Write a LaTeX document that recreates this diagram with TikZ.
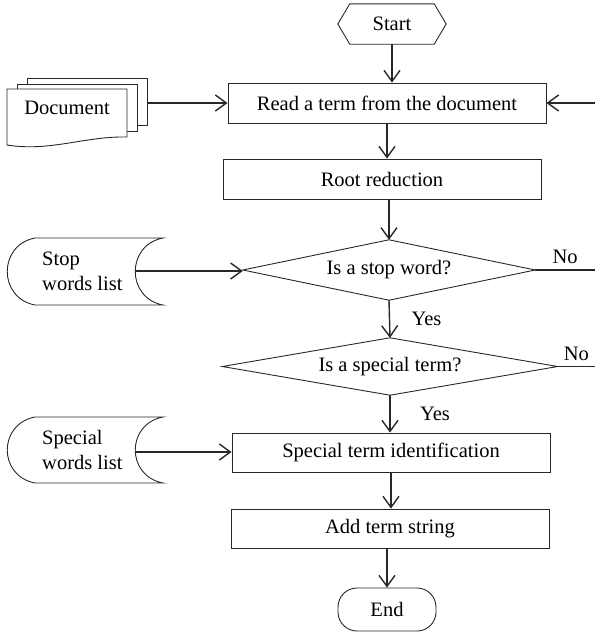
\documentclass[tikz,border=0pt]{standalone}
\usepackage{fontspec}
\setmainfont{Liberation Serif}
\usetikzlibrary{arrows.meta}
\definecolor{ink}{RGB}{40,40,40}
\tikzset{
    >={Straight Barb[length=11pt,width=16pt]},
    every node/.style={font=\fontsize{20.5}{25}\selectfont, text=black},
    shp/.style={draw=ink, line width=0.9pt},
    proc/.style={shp, minimum width=318pt, minimum height=40pt, inner sep=0pt},
    flow/.style={->, draw=ink, line width=1.4pt},
    plain/.style={draw=ink, line width=1.4pt}
}
\begin{document}
\begin{tikzpicture}[x=1pt,y=-1pt]
    \useasboundingbox (0,0) rectangle (595,633);
    \coordinate (edge) at (595,0);

    \node[minimum width=108pt, minimum height=40pt, inner sep=0pt] (start) at (392,24) {Start};
    \draw[shp] (start.west) -- ([xshift=12pt]start.north west) -- ([xshift=-12pt]start.north east)
        -- (start.east) -- ([xshift=-12pt]start.south east) -- ([xshift=12pt]start.south west) -- cycle;
    \node[proc] (read) at (387,103) {Read a term from the document};
    \node[proc] (root) at (382,179) {Root reduction};
    \node[minimum width=292pt, minimum height=60pt, inner sep=0pt] (stopq) at (389,270) {Is a stop word?};
    \draw[shp] (stopq.west) -- (stopq.north) -- (stopq.east) -- (stopq.south) -- cycle;
    \node[minimum width=335pt, minimum height=57pt, inner sep=0pt] (specq) at (390,366.5) {Is a special term?};
    \draw[shp] (specq.west) -- (specq.north) -- (specq.east) -- (specq.south) -- cycle;
    \node[proc, minimum height=39pt] (ident) at (391,452.5) {Special term identification};
    \node[proc, minimum height=39pt] (add) at (390,528.5) {Add term string};
    \node[shp, rounded corners=19pt, minimum width=98pt, minimum height=43pt, inner sep=0pt] (end) at (387,609.5) {End};

    \draw[flow] (start.south) -- (start.south |- read.north);
    \draw[flow] (read.south) -- (read.south |- root.north);
    \draw[flow] (stopq.north |- root.south) -- (stopq.north);
    \draw[flow] (stopq.south) -- node[right=18pt] {Yes} (specq.north);
    \draw[flow] (specq.south) -- node[right=26pt] {Yes} (specq.south |- ident.north);
    \draw[flow] (ident.south) -- (ident.south |- add.north);
    \draw[flow] (end.north |- add.south) -- (end.north);
    \draw[plain] (stopq.east) -- node[above=2pt] {No} (stopq.east -| edge);
    \draw[plain] (specq.east) -- node[above=2pt] {No} (specq.east -| edge);
    \draw[flow] (read.east -| edge) -- (read.east);

    \node[shp, fill=white, minimum width=120pt, minimum height=47pt] (docback) at (87,101.5) {};
    \node[shp, fill=white, minimum width=120pt, minimum height=47pt] (docmid) at (77,107.5) {};
    \draw[shp, fill=white] (7,89) -- (127,89) -- (127,137) .. controls (85,136) and (50,152) .. (7,145) -- cycle;
    \node (doc) at (67,108) {Document};
    \draw[flow] (docback.east |- read.west) -- (read.west);

    \draw[shp] (35,238) -- (163,238) .. controls (126,245) and (126,298) .. (163,305)
        -- (35,305) .. controls (-2,298) and (-2,245) .. (35,238);
    \node[align=left, anchor=west, inner sep=0pt] (stopl) at (42,271) {Stop\\words list};
    \coordinate (stopout) at (135,271);
    \draw[flow] (stopout) -- (stopout -| stopq.west);

    \draw[shp] (35,417) -- (163,417) .. controls (126,424) and (126,476) .. (163,483)
        -- (35,483) .. controls (-2,476) and (-2,424) .. (35,417);
    \node[align=left, anchor=west, inner sep=0pt] (specl) at (42,450) {Special\\words list};
    \coordinate (specout) at (135,452);
    \draw[flow] (specout) -- (specout -| ident.west);
\end{tikzpicture}
\end{document}
